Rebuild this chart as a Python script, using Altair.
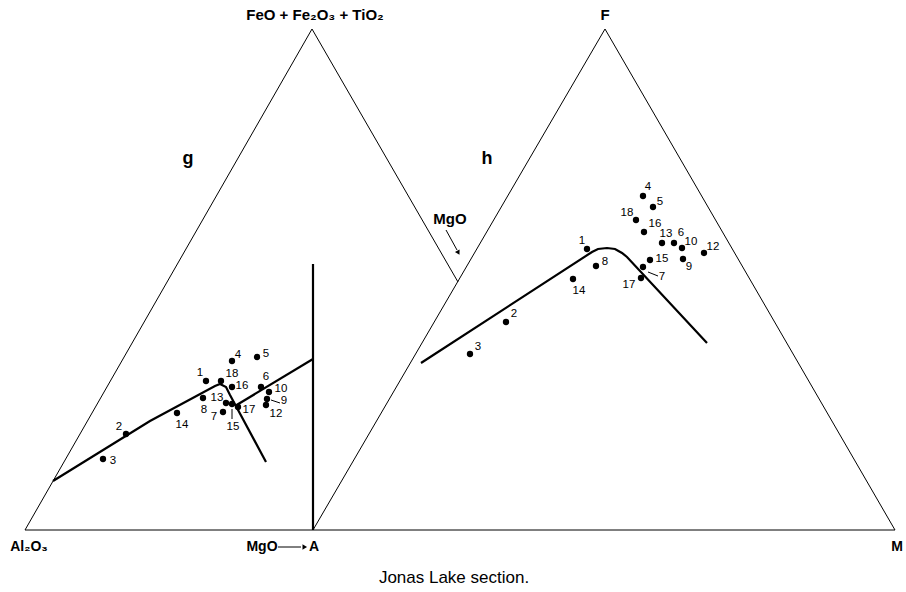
import altair as alt
import pandas as pd

# Diagram units: origin at the Al2O3 vertex, 1 unit ~ 1 px, y upward.
# ---- triangle outlines (thin) ----
OUT_SEG = ["g_left", "g_left", "g_right", "g_right", "base", "base",
           "h_left", "h_left", "h_right", "h_right"]
OUT_X = [0, 287, 287, 433, 0, 870, 288, 580, 580, 870]
OUT_Y = [0, 501, 501, 248, 0, 0, 0, 501, 501, 0]

# ---- thick tie lines ----
TIE_SEG = (["vert"] * 2 + ["g1"] * 7 + ["g2"] * 2 + ["h1"] * 8)
TIE_X = [288, 288,
         28, 125, 190, 195, 201, 205, 241,
         210, 288,
         396, 567, 573, 582, 590, 597, 602, 682]
TIE_Y = [0, 266,
         49, 109, 144, 146, 143, 135, 68,
         124, 171,
         167, 278, 281, 282, 281, 277, 273, 187]

# ---- samples, diagram g ----
G_ID = ["1", "2", "3", "4", "5", "6", "7", "8", "9", "10", "12", "13", "14", "15", "16", "17", "18"]
G_X = [181, 101, 78, 207, 232, 236, 198, 178, 242, 244, 241, 201, 152, 207, 207, 213, 196]
G_Y = [149, 96, 71, 169, 173, 143, 118, 132, 131, 138, 125, 127, 117, 126, 143, 123, 149]
G_LX = [175, 94, 88, 213, 241, 241, 189, 179, 259, 256, 251, 192, 157, 208, 217, 224, 207]
G_LY = [157, 103, 69, 175, 176, 153, 113, 120, 129, 141, 116, 132, 105, 103, 144, 120, 156]

# ---- samples, diagram h ----
H_ID = ["1", "2", "3", "4", "5", "6", "7", "8", "9", "10", "12", "13", "14", "15", "16", "17", "18"]
H_X = [562, 481, 445, 618, 628, 649, 618, 571, 658, 657, 679, 637, 548, 625, 619, 616, 611]
H_Y = [281, 208, 176, 334, 323, 287, 263, 264, 271, 282, 277, 287, 251, 270, 298, 252, 310]
H_LX = [557, 489, 453, 623, 635, 656, 637, 580, 664, 666, 688, 641, 554, 637, 630, 604, 602]
H_LY = [289, 216, 183, 343, 328, 297, 253, 268, 263, 288, 283, 296, 239, 271, 306, 245, 317]

# ---- leader lines (thin) ----
LEAD_SEG = ["g9", "g9", "g15", "g15", "h7", "h7", "mgo", "mgo", "ma", "ma"]
LEAD_X = [246, 255, 207, 207, 623, 633, 421, 432, 253, 276]
LEAD_Y = [130, 127, 111, 121, 258, 254, 300, 280, -17, -17]

# ---- arrow heads ----
HEAD_X = [433, 279]
HEAD_Y = [278, -17]
HEAD_ANGLE = [151, 90]

# ---- captions ----
TOP_TXT = ["FeO  +  Fe₂O₃  +  TiO₂", "F"]
TOP_X = [290, 580]
TOP_Y = [515, 515]
MGO_TXT = ["MgO"]
MGO_X = [425]
MGO_Y = [311]
CORNER_TXT = ["Al₂O₃", "MgO", "A", "M"]
CORNER_X = [4, 237, 289, 872]
CORNER_Y = [-17, -17, -17, -17]
PANEL_TXT = ["g", "h"]
PANEL_X = [163, 462]
PANEL_Y = [371, 371]
TITLE_TXT = ["Jonas Lake section."]
TITLE_X = [429]
TITLE_Y = [-48]

XS = alt.Scale(domain=[-25, 881], nice=False, zero=False)
YS = alt.Scale(domain=[-62, 530], nice=False, zero=False)


def xy(xf="x", yf="y"):
    return dict(x=alt.X(f"{xf}:Q", scale=XS, axis=None),
                y=alt.Y(f"{yf}:Q", scale=YS, axis=None))


outline = pd.DataFrame({"seg": OUT_SEG, "x": OUT_X, "y": OUT_Y, "o": range(len(OUT_X))})
ties = pd.DataFrame({"seg": TIE_SEG, "x": TIE_X, "y": TIE_Y, "o": range(len(TIE_X))})
leads = pd.DataFrame({"seg": LEAD_SEG, "x": LEAD_X, "y": LEAD_Y, "o": range(len(LEAD_X))})
pts = pd.DataFrame({
    "id": G_ID + H_ID, "x": G_X + H_X, "y": G_Y + H_Y,
    "lx": G_LX + H_LX, "ly": G_LY + H_LY,
})
heads = pd.DataFrame({"x": HEAD_X, "y": HEAD_Y, "a": HEAD_ANGLE})
top = pd.DataFrame({"t": TOP_TXT, "x": TOP_X, "y": TOP_Y})
mgo = pd.DataFrame({"t": MGO_TXT, "x": MGO_X, "y": MGO_Y})
corner = pd.DataFrame({"t": CORNER_TXT, "x": CORNER_X, "y": CORNER_Y})
panel = pd.DataFrame({"t": PANEL_TXT, "x": PANEL_X, "y": PANEL_Y})
title = pd.DataFrame({"t": TITLE_TXT, "x": TITLE_X, "y": TITLE_Y})

FONT = "Liberation Sans"


def txt(df, size, weight="normal"):
    return alt.Chart(df).mark_text(font=FONT, fontSize=size, fontWeight=weight, color="black",
                                   align="center", baseline="middle").encode(**xy(), text="t:N")


l_out = alt.Chart(outline).mark_line(color="black", strokeWidth=1).encode(
    **xy(), detail="seg:N", order="o:Q")
l_tie = alt.Chart(ties).mark_line(color="black", strokeWidth=2.2).encode(
    **xy(), detail="seg:N", order="o:Q")
l_lead = alt.Chart(leads).mark_line(color="black", strokeWidth=1).encode(
    **xy(), detail="seg:N", order="o:Q")
l_head = alt.Chart(heads).mark_point(shape="triangle", filled=True, color="black",
                                     size=28, opacity=1).encode(
    **xy(), angle=alt.Angle("a:Q", scale=None))
l_pts = alt.Chart(pts).mark_circle(color="black", size=40, opacity=1).encode(**xy())
l_lab = alt.Chart(pts).mark_text(font=FONT, fontSize=11.5, color="black",
                                 align="center", baseline="middle").encode(
    **xy("lx", "ly"), text="id:N")

chart = alt.layer(
    l_out, l_tie, l_lead, l_head, l_pts, l_lab,
    txt(top, 15, "bold"), txt(mgo, 15, "bold"), txt(corner, 14, "bold"),
    txt(panel, 18, "bold"), txt(title, 17),
).properties(
    width=906, height=592, padding=0,
    autosize=alt.AutoSizeParams(type="fit", contains="padding"),
    background="white",
).configure_view(stroke=None)

chart.save("out.html", embed_options={"renderer": "svg", "actions": False})
